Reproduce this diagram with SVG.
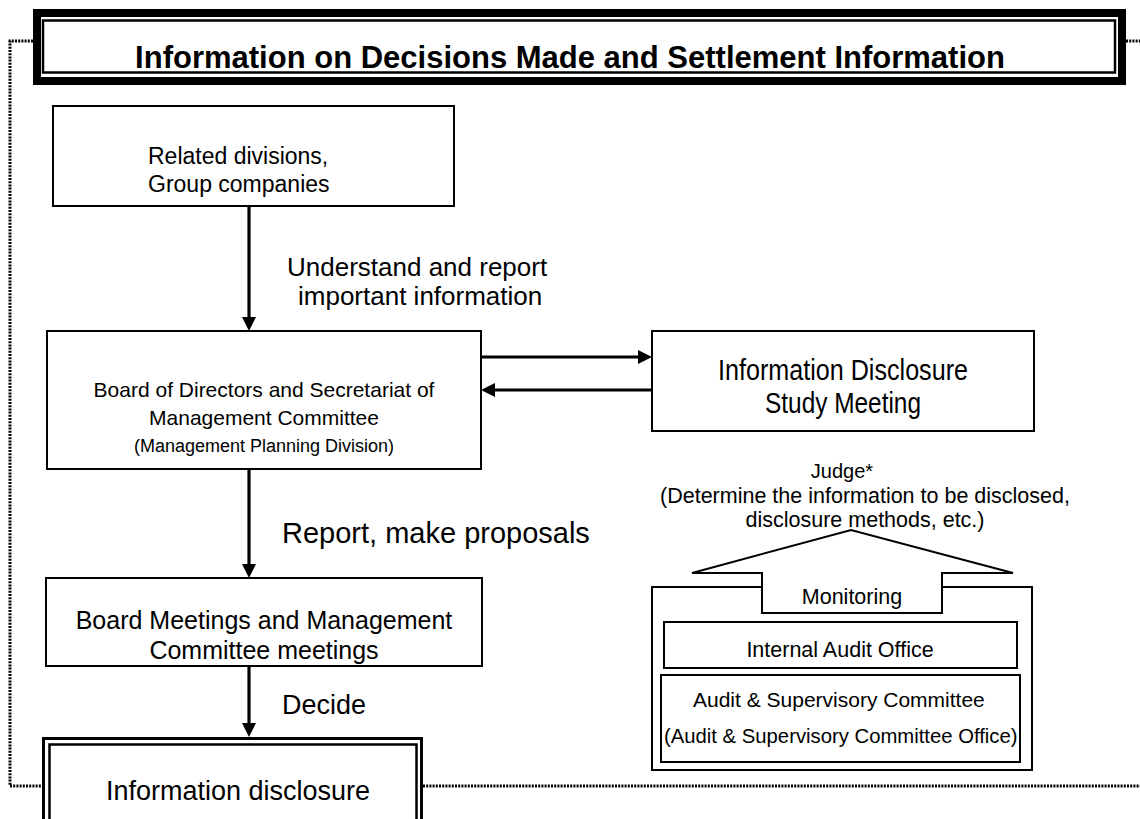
<svg xmlns="http://www.w3.org/2000/svg" width="1140" height="819" viewBox="0 0 1140 819">
<defs>
<style>
text{font-family:"Liberation Sans",Arial,sans-serif;fill:#000}
.box{fill:#fff;stroke:#000;stroke-width:2}
.ln{fill:none;stroke:#000;stroke-width:3.2}
.dot{fill:none;stroke:#000;stroke-width:3;stroke-dasharray:2 1.2}
.c{text-anchor:middle}
</style>
<marker id="ah" markerUnits="userSpaceOnUse" markerWidth="16" markerHeight="16" refX="10" refY="7" orient="auto">
<path d="M0,0 L14,7 L0,14 Z" fill="#000"/>
</marker>
</defs>
<rect width="1140" height="819" fill="#fff"/>
<g id="frame">
<path class="dot" d="M33,41 H10 V786 H42"/>
<path class="dot" d="M423,786 H1140"/>
<path class="dot" d="M1126,41 H1140"/>
</g>
<g id="title">
<rect x="37" y="13" width="1085" height="68" fill="#fff" stroke="#000" stroke-width="8"/>
<rect x="43" y="20.5" width="1072" height="52" fill="none" stroke="#000" stroke-width="2.5"/>
<text class="c" x="570" y="68" font-size="31" font-weight="bold">Information on Decisions Made and Settlement Information</text>
</g>
<g id="related">
<rect class="box" x="53" y="106" width="401" height="100"/>
<text x="148" y="164" font-size="23">Related divisions,</text>
<text x="148" y="192" font-size="23">Group companies</text>
</g>
<g id="board-secretariat">
<rect class="box" x="47" y="331" width="434" height="138"/>
<text class="c" x="264" y="397" font-size="21">Board of Directors and Secretariat of</text>
<text class="c" x="264" y="425" font-size="21">Management Committee</text>
<text class="c" x="264" y="452" font-size="18">(Management Planning Division)</text>
</g>
<g id="study-meeting">
<rect class="box" x="652" y="331" width="382" height="100"/>
<text class="c" x="843" y="380" font-size="29" textLength="250" lengthAdjust="spacingAndGlyphs">Information Disclosure</text>
<text class="c" x="843" y="413" font-size="29" textLength="156" lengthAdjust="spacingAndGlyphs">Study Meeting</text>
</g>
<g id="board-meetings">
<rect class="box" x="46" y="578" width="436" height="88"/>
<text class="c" x="264" y="629" font-size="25">Board Meetings and Management</text>
<text class="c" x="264" y="659" font-size="25">Committee meetings</text>
</g>
<g id="disclosure">
<rect x="43.5" y="738.5" width="378" height="90" fill="#fff" stroke="#000" stroke-width="3"/>
<rect x="49.5" y="744.5" width="367" height="80" fill="none" stroke="#000" stroke-width="2.5"/>
<text class="c" x="238" y="800" font-size="27">Information disclosure</text>
</g>
<g id="monitoring">
<path class="box" d="M762,587 H652 V770 H1032 V587 H942"/>
<path class="box" d="M692,573 L851,530 L1013,573 H942 V613 H762 V573 Z"/>
<text class="c" x="852" y="604" font-size="21.5">Monitoring</text>
<text class="c" x="842" y="478" font-size="20">Judge*</text>
<text class="c" x="865" y="503" font-size="21.5">(Determine the information to be disclosed,</text>
<text class="c" x="865" y="527" font-size="21.5">disclosure methods, etc.)</text>
</g>
<g id="internal-audit">
<rect class="box" x="664" y="622" width="353" height="46"/>
<text class="c" x="840" y="657" font-size="21.5">Internal Audit Office</text>
</g>
<g id="audit-committee">
<rect class="box" x="661" y="675" width="359" height="87"/>
<text x="693" y="707" font-size="21">Audit &amp; Supervisory Committee</text>
<text x="664" y="743" font-size="20.3">(Audit &amp; Supervisory Committee Office)</text>
</g>
<g id="connectors">
<path class="ln" d="M249,206 V327" marker-end="url(#ah)"/>
<path class="ln" d="M249,469 V574" marker-end="url(#ah)"/>
<path class="ln" d="M249,666 V733" marker-end="url(#ah)"/>
<path class="ln" d="M481,357 H648" marker-end="url(#ah)"/>
<path class="ln" d="M652,390 H485" marker-end="url(#ah)"/>
<text x="287" y="276" font-size="26">Understand and report</text>
<text x="298" y="305" font-size="26">important information</text>
<text x="282" y="543" font-size="29">Report, make proposals</text>
<text x="282" y="714" font-size="27">Decide</text>
</g>
</svg>
